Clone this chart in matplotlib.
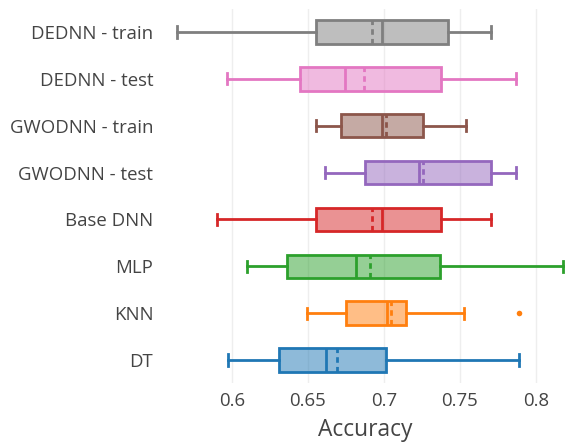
import matplotlib
matplotlib.use("Agg")
import matplotlib.pyplot as plt
from matplotlib.colors import to_rgba

plt.rcParams['font.family'] = ['Open Sans', 'DejaVu Sans']

models = ["DT", "KNN", "MLP", "Base DNN", "GWODNN - test", "GWODNN - train", "DEDNN - test", "DEDNN - train"]
colors = ["#1f77b4", "#ff7f0e", "#2ca02c", "#d62728", "#9467bd", "#8c564b", "#e377c2", "#7f7f7f"]
whislo = [0.5974, 0.6493, 0.6103, 0.5901, 0.6612, 0.6557, 0.5967, 0.5642]
q1 =     [0.6313, 0.6750, 0.6362, 0.6555, 0.6879, 0.6717, 0.6449, 0.6553]
med =    [0.6620, 0.7024, 0.6816, 0.6991, 0.7232, 0.6987, 0.6747, 0.6991]
mean =   [0.6691, 0.7046, 0.6912, 0.6921, 0.7261, 0.7013, 0.6873, 0.6921]
q3 =     [0.7015, 0.7145, 0.7368, 0.7377, 0.7706, 0.7259, 0.7377, 0.7421]
whishi = [0.7892, 0.7530, 0.8178, 0.7704, 0.7868, 0.7539, 0.7868, 0.7704]
fliers = [[], [0.7892], [], [], [], [], [], []]
xticks = [0.6, 0.65, 0.7, 0.75, 0.8]
xticklabels = ["0.6", "0.65", "0.7", "0.75", "0.8"]

W, H = 565, 445
fig = plt.figure(figsize=(W / 100, H / 100), dpi=100)
L, R, T, B = 165, 565, 8.6, 383.4
ax = fig.add_axes([L / W, 1 - B / H, (R - L) / W, (B - T) / H])

for i, m in enumerate(models):
    c = colors[i]
    st = [dict(label=m, whislo=whislo[i], q1=q1[i], med=med[i], q3=q3[i],
               whishi=whishi[i], mean=mean[i], fliers=fliers[i])]
    ax.bxp(st, positions=[i], widths=0.5, capwidths=0.24, vert=False, patch_artist=True,
           showmeans=True, meanline=True,
           boxprops=dict(facecolor=to_rgba(c, 0.5), edgecolor=c, linewidth=2.0, zorder=2),
           medianprops=dict(color=c, linewidth=2.0, zorder=3),
           meanprops=dict(color=c, linewidth=2.0, linestyle=(0, (2, 1.5)), zorder=3),
           whiskerprops=dict(color=c, linewidth=2.0),
           capprops=dict(color=c, linewidth=2.0),
           flierprops=dict(marker='o', markerfacecolor=c, markeredgecolor='none', markersize=4))

ax.set_xlim(0.6 + (L - 231.7) / 1520, 0.6 + (R - 231.7) / 1520)
ax.set_ylim(-0.5, 7.5)
ax.set_yticks(range(len(models)))
ax.set_yticklabels(models)
ax.set_xticks(xticks)
ax.set_xticklabels(xticklabels)
ax.tick_params(axis='both', length=0, colors='#444444', labelsize=13.4)
ax.tick_params(axis='y', pad=8.5)
ax.tick_params(axis='x', pad=6)
ax.grid(axis='x', color='#eeeeee', linewidth=1)
ax.set_axisbelow(True)
for s in ax.spines.values():
    s.set_visible(False)
ax.set_xlabel("Accuracy", fontsize=16.4, color='#444444', labelpad=6)

fig.savefig("out.png", dpi=100)
